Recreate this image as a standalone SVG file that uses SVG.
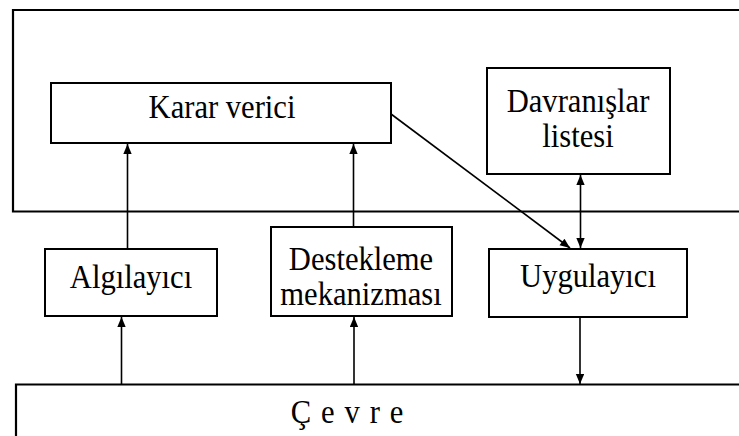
<svg xmlns="http://www.w3.org/2000/svg" width="739" height="436" viewBox="0 0 739 436">
  <style>
    .box { fill: #fff; stroke: #000; stroke-width: 2; }
    .frame { fill: none; stroke: #000; stroke-width: 2.2; }
    .lbl { font-family: "Liberation Serif", "Times New Roman", serif; font-size: 34px; fill: #000; text-anchor: middle; }
    .conn { stroke: #000; stroke-width: 1.6; fill: none; }
  </style>
  <defs>
    <marker id="head" viewBox="0 0 10 12" refX="12" refY="5" markerWidth="12" markerHeight="10" markerUnits="userSpaceOnUse" orient="auto-start-reverse">
      <path d="M0,0 L12,5 L0,10 Z" fill="#000"/>
    </marker>
  </defs>
  <rect width="739" height="436" fill="#fff"/>

  <!-- agent boundary (open on the right) -->
  <g id="agent-frame">
    <path class="frame" d="M739,10 H13 V211.5 H739"/>
  </g>

  <!-- environment (open on the right and bottom) -->
  <g id="cevre">
    <path class="frame" d="M739,384.5 H16 V436"/>
    <g transform="translate(352,423) scale(0.9,1)"><text class="lbl" x="0" y="0" letter-spacing="11">Çevre</text></g>
  </g>

  <g id="karar-verici">
    <rect class="box" x="51" y="83" width="340" height="60"/>
    <g transform="translate(222,118) scale(0.9,1)"><text class="lbl" x="0" y="0">Karar verici</text></g>
  </g>

  <g id="davranislar-listesi">
    <rect class="box" x="487" y="68" width="183" height="106"/>
    <g transform="translate(578,112) scale(0.9,1)"><text class="lbl" x="0" y="0">Davranışlar</text></g>
    <g transform="translate(578,147) scale(0.9,1)"><text class="lbl" x="0" y="0">listesi</text></g>
  </g>

  <g id="algilayici">
    <rect class="box" x="45" y="249" width="172" height="67"/>
    <g transform="translate(131,288) scale(0.9,1)"><text class="lbl" x="0" y="0">Algılayıcı</text></g>
  </g>

  <g id="destekleme-mekanizmasi">
    <rect class="box" x="271" y="227" width="181" height="89"/>
    <g transform="translate(361,270) scale(0.9,1)"><text class="lbl" x="0" y="0">Destekleme</text></g>
    <g transform="translate(361,305) scale(0.9,1)"><text class="lbl" x="0" y="0">mekanizması</text></g>
  </g>

  <g id="uygulayici">
    <rect class="box" x="489" y="249" width="198" height="68"/>
    <g transform="translate(588,287) scale(0.9,1)"><text class="lbl" x="0" y="0">Uygulayıcı</text></g>
  </g>

  <g id="connectors">
    <line class="conn" x1="127.5" y1="249" x2="127.5" y2="144" marker-end="url(#head)"/>
    <line class="conn" x1="353.5" y1="227" x2="353.5" y2="144" marker-end="url(#head)"/>
    <line class="conn" x1="121.5" y1="384" x2="121.5" y2="317" marker-end="url(#head)"/>
    <line class="conn" x1="354" y1="384" x2="354" y2="317" marker-end="url(#head)"/>
    <line class="conn" x1="580" y1="317" x2="580" y2="384" marker-end="url(#head)"/>
    <line class="conn" x1="580.5" y1="175" x2="580.5" y2="248" marker-start="url(#head)" marker-end="url(#head)"/>
    <line class="conn" x1="391" y1="114" x2="570" y2="248" marker-end="url(#head)"/>
  </g>
</svg>
